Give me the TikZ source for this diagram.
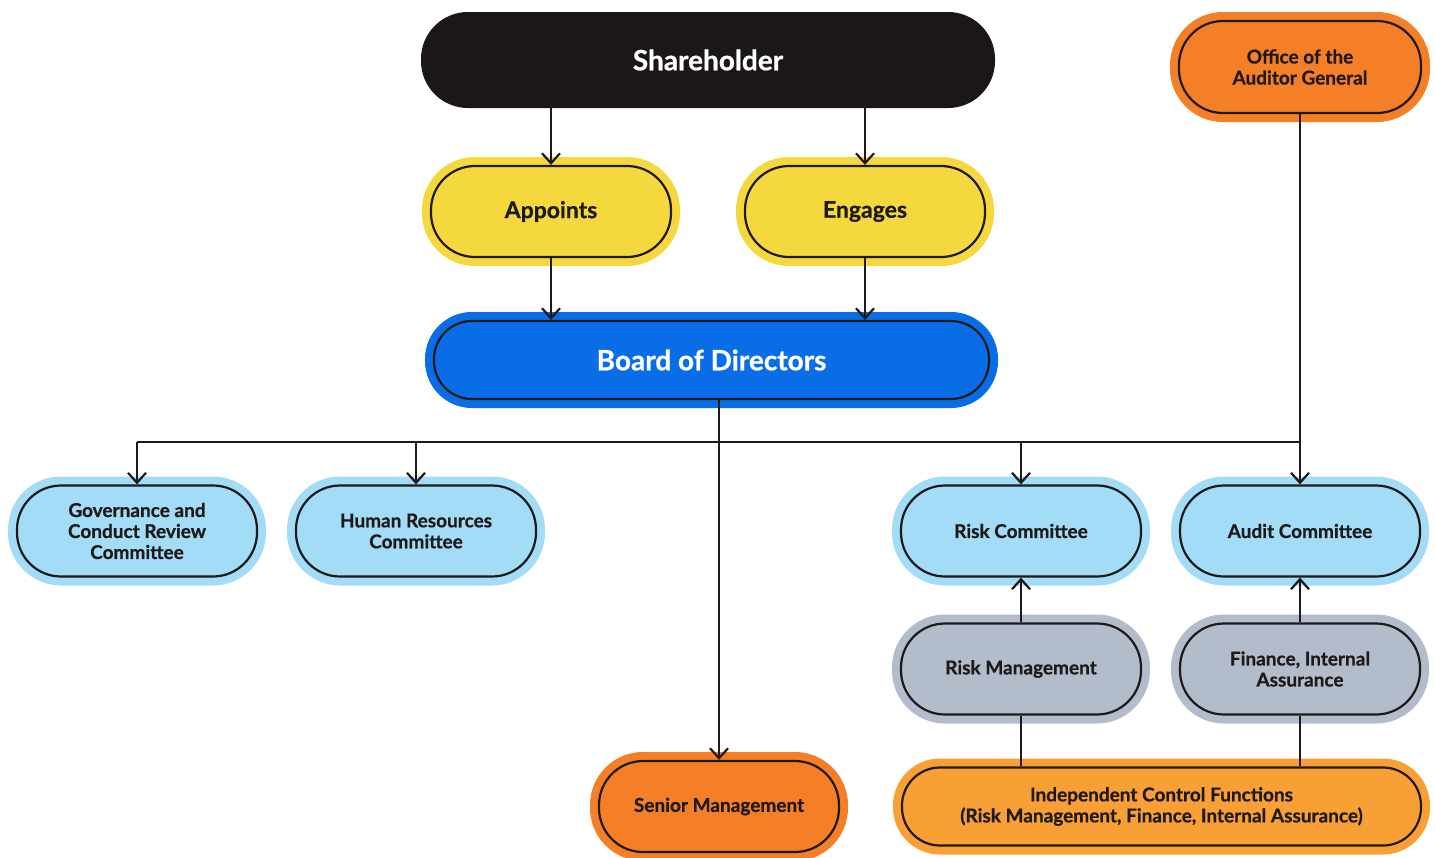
\documentclass[tikz,border=0pt]{standalone}
\usepackage{fontspec}
\setmainfont{Lato}[BoldFeatures={FakeBold=0.7}]
\usetikzlibrary{arrows.meta}
\definecolor{lineC}{HTML}{1E1A1A}
\definecolor{cBlack}{HTML}{1C1717}
\definecolor{cYellow}{HTML}{F5D83E}
\definecolor{cBlue}{HTML}{0A6DE8}
\definecolor{cLight}{HTML}{A3DCF6}
\definecolor{cGrey}{HTML}{B3BCCB}
\definecolor{cOrange}{HTML}{F57F27}
\definecolor{cAmber}{HTML}{F8A035}
\tikzset{
  pill/.style={draw=lineC, line width=1.1pt, rounded corners=22pt, align=center,
    inner sep=0pt, text=lineC, minimum width=120pt, minimum height=45.5pt,
    font=\bfseries\fontsize{9.5}{10.5}\selectfont},
  slim/.style={rounded corners=19pt, minimum height=39pt},
  ring/.style={fill=#1, preaction={draw=#1, line width=9pt}},
  big/.style={font=\bfseries\fontsize{14}{16}\selectfont},
  mid/.style={font=\bfseries\fontsize{11.5}{13}\selectfont},
  conn/.style={draw=lineC, line width=1.1pt},
  arr/.style={conn, -{Straight Barb[length=5pt,width=9pt,line width=1.1pt]}}
}
\begin{document}
\begin{tikzpicture}[x=0.5pt,y=-0.5pt]
\useasboundingbox (0,0) rectangle (1435,857);
% nodes
\node[pill, slim, ring=cBlack, draw=cBlack, big, text=white, minimum width=278pt] (sh) at (708,60) {Shareholder};
\node[pill, ring=cYellow, mid] (app) at (551,211.5) {Appoints};
\node[pill, ring=cYellow, mid] (eng) at (865,211.5) {Engages};
\node[pill, slim, ring=cBlue, big, text=white, minimum width=277.5pt] (bod) at (711.5,360) {Board of Directors};
\node[pill, ring=cOrange, minimum width=121pt, minimum height=46pt] (oag) at (1300,67) {Office of the\\Auditor General};
\node[pill, ring=cLight] (gov) at (137,531) {Governance and\\Conduct Review\\Committee};
\node[pill, ring=cLight] (hr) at (416,531) {Human Resources\\Committee};
\node[pill, ring=cLight] (rc) at (1021,531) {Risk Committee};
\node[pill, ring=cLight] (ac) at (1300,531) {Audit Committee};
\node[pill, ring=cGrey] (rm) at (1021,669) {Risk Management};
\node[pill, ring=cGrey] (fin) at (1300,669) {Finance, Internal\\Assurance};
\node[pill, ring=cOrange] (sm) at (719,806.5) {Senior Management};
\node[pill, slim, ring=cAmber, minimum width=259.5pt] (icf) at (1161.5,806.5) {Independent Control Functions\\(Risk Management, Finance, Internal Assurance)};
% connectors
\coordinate (bus) at (0,442);
\draw[arr] (app |- sh.south) -- (app.north);
\draw[arr] (eng |- sh.south) -- (eng.north);
\draw[arr] (app.south) -- (app.south |- bod.north);
\draw[arr] (eng.south) -- (eng.south |- bod.north);
\draw[arr] (sm |- bod.south) -- (sm.north);
\draw[conn] (gov |- bus) -- (ac |- bus);
\draw[arr] (oag.south) -- (ac.north);
\draw[arr] (gov |- bus) -- (gov.north);
\draw[arr] (hr |- bus) -- (hr.north);
\draw[arr] (rc |- bus) -- (rc.north);
\draw[arr] (rm.north) -- (rc.south);
\draw[arr] (fin.north) -- (ac.south);
\draw[conn] (rm.south) -- (rm.south |- icf.north);
\draw[conn] (fin.south) -- (fin.south |- icf.north);
\end{tikzpicture}
\end{document}
